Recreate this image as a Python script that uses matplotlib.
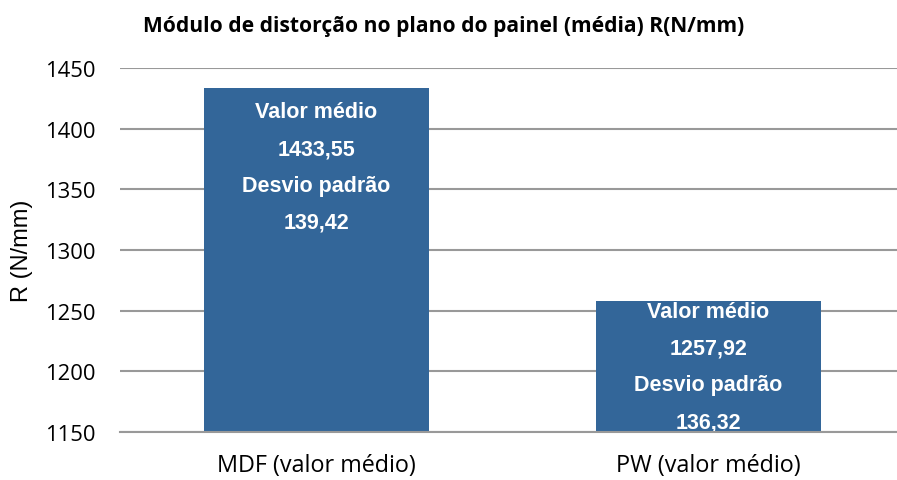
import matplotlib.pyplot as plt
import numpy as np

# chart data
categories = ['MDF (valor médio)', 'PW (valor médio)']
means = [1433.55, 1257.92]
std_devs = [139.42, 136.32]
mean_labels = ['1433,55', '1257,92']
std_labels = ['139,42', '136,32']
yticks = [1150, 1200, 1250, 1300, 1350, 1400, 1450]

fig = plt.figure(figsize=(8.97, 4.81), dpi=100)
ax = fig.add_axes([0.1338, 0.0998, 0.8662, 0.7567])

x = np.arange(len(categories))
bars = ax.bar(x, means, width=0.574, color='#336699', zorder=2)

ax.set_ylim(1150, 1450)
ax.set_xlim(-0.501, 1.481)
ax.set_yticks(yticks)
ax.set_xticks(x)
ax.set_xticklabels(categories, family='Open Sans', fontsize=16.8)
ax.set_yticklabels([str(t) for t in yticks], family='Open Sans', fontsize=15.8)
ax.tick_params(axis='y', length=0, pad=18)
ax.tick_params(axis='x', length=0, pad=15)
ax.grid(axis='y', color='#999999', lw=1.5, zorder=1)
for s in ['top', 'right', 'left']:
    ax.spines[s].set_visible(False)
ax.spines['bottom'].set_color('#999999')
ax.spines['bottom'].set_linewidth(1.5)
ax.spines['bottom'].set_zorder(3)

ax.set_ylabel('R (N/mm)', family='Liberation Sans', fontsize=17, labelpad=8)

# labels inside the bars: first near the top, second centred
label_y = [means[0] - 65, (means[1] + 1150) / 2]
for i in range(len(categories)):
    txt = 'Valor médio\n%s\nDesvio padrão\n%s' % (mean_labels[i], std_labels[i])
    ax.text(x[i], label_y[i], txt, ha='center', va='center', color='white',
            family='Liberation Sans', fontweight='bold', fontsize=15.5,
            linespacing=1.98, zorder=2.5)

fig.text(0.495, 0.944, 'Módulo de distorção no plano do painel (média) R(N/mm)',
         ha='center', va='center', family='Open Sans', fontweight='bold',
         fontsize=15.1)

fig.savefig('out.png', dpi=100)
